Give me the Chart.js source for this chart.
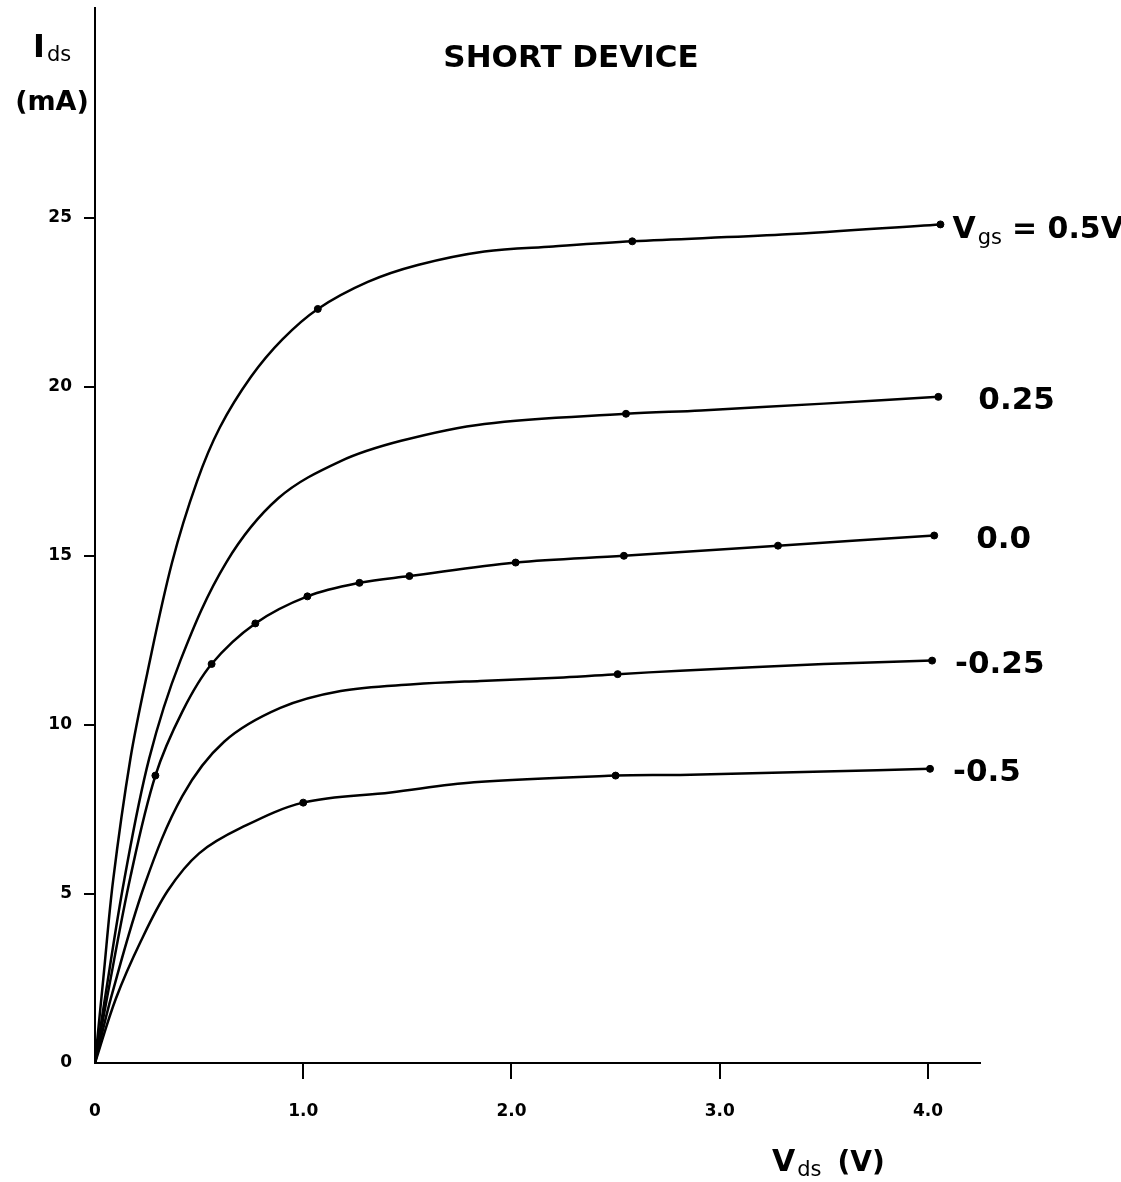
<!DOCTYPE html>
<html>
<head>
<meta charset="utf-8">
<title>Short device</title>
<script src="https://cdn.jsdelivr.net/npm/chart.js@4/dist/chart.umd.min.js"></script>
<style>
  html, body { margin: 0; padding: 0; background: #fff; }
  #wrap { width: 1121px; height: 1182px; position: relative; }
</style>
</head>
<body>
<div id="wrap"><canvas id="chart"></canvas></div>
<script>
// Ids-Vds curves, short device
const vgsLabels = ['0.5', '0.25', '0.0', '-0.25', '-0.5'];

const vdsP050 = [0, 0.04, 0.087, 0.17, 0.25, 0.37, 0.49, 0.60, 0.75, 0.90, 1.07, 1.31, 1.55, 1.87, 2.2, 2.58, 3.3, 4.06];
const idsP050 = [0, 2.5, 5.4, 9.0, 11.5, 14.8, 17.2, 18.8, 20.3, 21.4, 22.3, 23.1, 23.6, 24.0, 24.15, 24.3, 24.5, 24.8];

const vdsP025 = [0, 0.05, 0.14, 0.26, 0.41, 0.63, 0.88, 1.18, 1.47, 1.87, 2.55, 2.91, 3.5, 4.05];
const idsP025 = [0, 2.0, 5.4, 9.0, 11.9, 14.8, 16.7, 17.8, 18.4, 18.9, 19.2, 19.3, 19.5, 19.7];

const vdsZ000 = [0, 0.06, 0.17, 0.29, 0.42, 0.56, 0.77, 1.02, 1.27, 1.51, 2.02, 2.54, 3.28, 4.03];
const idsZ000 = [0, 2.0, 5.5, 8.5, 10.4, 11.8, 13.0, 13.8, 14.2, 14.4, 14.8, 15.0, 15.3, 15.6];

const vdsN025 = [0, 0.08, 0.24, 0.42, 0.62, 0.89, 1.18, 1.53, 1.85, 2.25, 2.51, 2.81, 3.5, 4.02];
const idsN025 = [0, 2.0, 5.3, 7.9, 9.5, 10.5, 11.0, 11.2, 11.3, 11.4, 11.5, 11.6, 11.8, 11.9];

const vdsN050 = [0, 0.1, 0.22, 0.35, 0.5, 0.7, 1.0, 1.42, 1.82, 2.5, 2.81, 3.5, 4.01];
const idsN050 = [0, 1.9, 3.6, 5.1, 6.2, 6.95, 7.7, 8.0, 8.3, 8.5, 8.52, 8.62, 8.7];

// measured points (dots on the curves)
const dotVdsP050 = [1.07, 2.58, 4.06];
const dotIdsP050 = [22.3, 24.3, 24.8];
const dotVdsP025 = [2.55, 4.05];
const dotIdsP025 = [19.2, 19.7];
const dotVdsZ000 = [0.29, 0.56, 0.77, 1.02, 1.27, 1.51, 2.02, 2.54, 3.28, 4.03];
const dotIdsZ000 = [8.5, 11.8, 13.0, 13.8, 14.2, 14.4, 14.8, 15.0, 15.3, 15.6];
const dotVdsN025 = [2.51, 4.02];
const dotIdsN025 = [11.5, 11.9];
const dotVdsN050 = [1.0, 2.5, 4.01];
const dotIdsN050 = [7.7, 8.5, 8.7];

const xTickValues = [0, 1, 2, 3, 4];
const yTickValues = [0, 5, 10, 15, 20, 25];

const curves = [
    [vdsP050, idsP050, dotVdsP050, dotIdsP050],
    [vdsP025, idsP025, dotVdsP025, dotIdsP025],
    [vdsZ000, idsZ000, dotVdsZ000, dotIdsZ000],
    [vdsN025, idsN025, dotVdsN025, dotIdsN025],
    [vdsN050, idsN050, dotVdsN050, dotIdsN050]
];

function toPoints(xs, ys) {
    return xs.map((x, i) => ({ x: x, y: ys[i] }));
}

const datasets = [];
curves.forEach((c, i) => {
    datasets.push({
        label: 'Vgs = ' + vgsLabels[i],
        data: toPoints(c[0], c[1]),
        showLine: true,
        borderColor: '#000',
        borderWidth: 2.5,
        pointRadius: 0,
        tension: 0.35
    });
    datasets.push({
        label: 'points ' + vgsLabels[i],
        data: toPoints(c[2], c[3]),
        showLine: false,
        pointRadius: 3.5,
        pointBackgroundColor: '#000',
        pointBorderColor: '#000'
    });
});

const FONT = "'DejaVu Sans', sans-serif";

// text with a subscript part
function subText(ctx, x, y, main, sub, mainFont, subFont, subDrop) {
    ctx.font = mainFont;
    ctx.fillText(main, x, y);
    const w = ctx.measureText(main).width;
    ctx.font = subFont;
    ctx.fillText(sub, x + w + 2, y + subDrop);
    return x + w + 2 + ctx.measureText(sub).width;
}

// label gap right of each curve end
const labelGap = [12, 40, 42, 23, 23];

const textPlugin = {
    id: 'texts',
    afterDraw(chart) {
        const ctx = chart.ctx;
        const xs = chart.scales.x, ys = chart.scales.y;
        ctx.save();
        ctx.fillStyle = '#000';
        ctx.textBaseline = 'alphabetic';

        // title
        ctx.textAlign = 'center';
        ctx.font = 'bold 31px ' + FONT;
        ctx.fillText('SHORT DEVICE', 571, 67);

        // y axis title
        ctx.textAlign = 'left';
        subText(ctx, 33, 57, 'I', 'ds', 'bold 32px ' + FONT, '21px ' + FONT, 4);
        ctx.textAlign = 'center';
        ctx.font = 'bold 27px ' + FONT;
        ctx.fillText('(mA)', 52, 110);

        // x axis title
        ctx.textAlign = 'left';
        const end = subText(ctx, 772, 1171, 'V', 'ds', 'bold 30px ' + FONT, '21px ' + FONT, 5);
        ctx.font = 'bold 28px ' + FONT;
        ctx.fillText('(V)', end + 16, 1171);

        // curve labels
        curves.forEach((c, i) => {
            const vx = c[0][c[0].length - 1], vy = c[1][c[1].length - 1];
            const px = xs.getPixelForValue(vx) + labelGap[i];
            const py = ys.getPixelForValue(vy) + 12;
            ctx.textAlign = 'left';
            if (i === 0) {
                const e = subText(ctx, px, py + 2, 'V', 'gs', 'bold 30px ' + FONT, '21px ' + FONT, 6);
                ctx.font = 'bold 30px ' + FONT;
                ctx.fillText('= ' + vgsLabels[i] + 'V', e + 10, py + 2);
            } else {
                ctx.font = 'bold 31px ' + FONT;
                ctx.fillText(vgsLabels[i], px, py);
            }
        });
        ctx.restore();
    }
};

const hideZero = (c) => (c.tick && c.tick.value === 0) ? 'rgba(0,0,0,0)' : '#000';

new Chart(document.getElementById('chart'), {
    type: 'scatter',
    data: { datasets: datasets },
    options: {
        responsive: true,
        maintainAspectRatio: false,
        animation: false,
        layout: { padding: { top: 8, right: 141, left: 0, bottom: 0 } },
        plugins: {
            legend: { display: false },
            tooltip: { enabled: false },
            title: { display: false }
        },
        scales: {
            x: {
                type: 'linear',
                min: 0,
                max: 4.25,
                afterFit(s) {
                    s.height = 119;
                    s.paddingLeft = 0;
                    s.paddingRight = 0;
                },
                afterBuildTicks(s) { s.ticks = xTickValues.map(v => ({ value: v })); },
                border: { display: true, color: '#000', width: 2 },
                grid: {
                    drawOnChartArea: false,
                    drawTicks: true,
                    tickLength: 16,
                    lineWidth: 2,
                    color: hideZero
                },
                ticks: {
                    color: '#000',
                    padding: 22,
                    autoSkip: false,
                    maxRotation: 0,
                    font: { family: FONT, size: 17, weight: 'bold' },
                    callback: v => v === 0 ? '0' : v.toFixed(1)
                }
            },
            y: {
                type: 'linear',
                min: 0,
                max: 31.2,
                afterFit(s) {
                    s.width = 95;
                    s.paddingTop = 0;
                    s.paddingBottom = 0;
                },
                afterBuildTicks(s) { s.ticks = yTickValues.map(v => ({ value: v })); },
                border: { display: true, color: '#000', width: 2 },
                grid: {
                    drawOnChartArea: false,
                    drawTicks: true,
                    tickLength: 11,
                    lineWidth: 2,
                    color: hideZero
                },
                ticks: {
                    color: '#000',
                    padding: 12,
                    font: { family: FONT, size: 17, weight: 'bold' },
                    callback: v => String(v)
                }
            }
        }
    },
    plugins: [textPlugin]
});
</script>
</body>
</html>
